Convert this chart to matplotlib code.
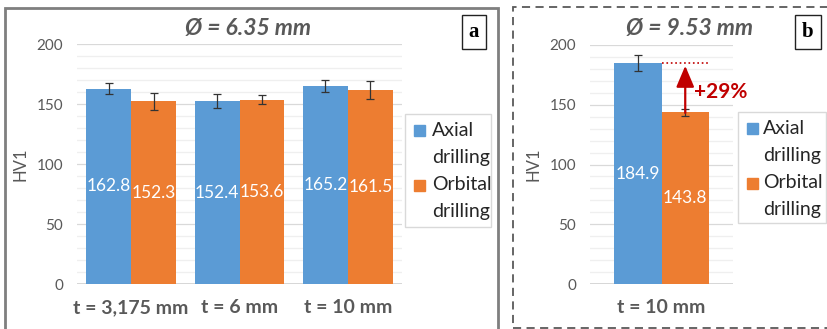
import matplotlib
matplotlib.use("Agg")
import matplotlib.pyplot as plt
from matplotlib.patches import Rectangle
import numpy as np

# hardness data (HV1)
cats_a = ["t = 3,175 mm", "t = 6 mm", "t = 10 mm"]
axial_a = [162.8, 152.4, 165.2]
orbital_a = [152.3, 153.6, 161.5]
axial_err_a = [4.5, 6.0, 5.0]
orbital_err_a = [7.0, 4.0, 7.5]

cats_b = ["t = 10 mm"]
axial_b = [184.9]
orbital_b = [143.8]
axial_err_b = [7.0]
orbital_err_b = [3.0]

BLUE = "#5b9bd5"
ORANGE = "#ed7d31"
GRAY_TXT = "#595959"
RED = "#c00000"

plt.rcParams["font.family"] = ["Lato", "DejaVu Sans"]

W, H = 827, 329
fig = plt.figure(figsize=(W / 100, H / 100), dpi=100)


def px_axes(x0, x1, ytop, ybot):
    return fig.add_axes([x0 / W, (H - ybot) / H, (x1 - x0) / W, (ybot - ytop) / H])


def draw_panel(ax, cats, ax_vals, or_vals, ax_err, or_err, width):
    x = np.arange(len(cats))
    ax.set_xlim(-0.5, len(cats) - 0.5)
    ax.set_ylim(0, 200)
    for y in range(10, 200, 10):
        c = "#d9d9d9" if y % 50 == 0 else "#efefef"
        ax.axhline(y, color=c, lw=0.9, zorder=0)
    ax.axhline(200, color="#d9d9d9", lw=0.9, zorder=0)
    ax.axhline(0, color="#d0d0d0", lw=1.2, zorder=0)
    b1 = ax.bar(x - width / 2, ax_vals, width, color=BLUE, zorder=2,
                yerr=ax_err, capsize=3,
                error_kw=dict(ecolor="#333333", elinewidth=0.9, capthick=0.9))
    b2 = ax.bar(x + width / 2, or_vals, width, color=ORANGE, zorder=2,
                yerr=or_err, capsize=3,
                error_kw=dict(ecolor="#333333", elinewidth=0.9, capthick=0.9))
    for bars, vals in ((b1, ax_vals), (b2, or_vals)):
        for r, v in zip(bars, vals):
            ax.text(r.get_x() + r.get_width() / 2, v / 2, f"{v:.1f}",
                    ha="center", va="center", color="white", fontsize=12.5,
                    zorder=3)
    for s in ax.spines.values():
        s.set_visible(False)
    ax.set_yticks([0, 50, 100, 150, 200])
    ax.tick_params(axis="y", length=0, labelsize=11, labelcolor=GRAY_TXT, pad=10)
    ax.set_xticks(x)
    ax.set_xticklabels(cats, fontsize=14, fontweight="bold", color=GRAY_TXT)
    ax.tick_params(axis="x", length=0, pad=11)
    ax.set_ylabel("HV1", fontsize=12, color=GRAY_TXT, labelpad=6)
    ax.set_facecolor("white")
    return b1, b2


def draw_legend(x0, ytop, box_w, box_h, txt_dx=27):
    fig.add_artist(Rectangle((x0 / W, (H - ytop - box_h) / H), box_w / W, box_h / H,
                             transform=fig.transFigure, fill=False,
                             edgecolor="#d9d9d9", lw=1))
    items = [(BLUE, "Axial", "drilling", ytop + 16), (ORANGE, "Orbital", "drilling", ytop + 71)]
    for col, l1, l2, yc in items:
        fig.add_artist(Rectangle(((x0 + 9) / W, (H - yc - 6) / H), 11 / W, 11 / H,
                                 transform=fig.transFigure, color=col))
        fig.text((x0 + txt_dx) / W, (H - yc) / H, l1, fontsize=14, color="#262626",
                 va="center", ha="left")
        fig.text((x0 + txt_dx) / W, (H - yc - 27) / H, l2, fontsize=14, color="#262626",
                 va="center", ha="left")


def label_box(xc, yc, s):
    fig.text(xc / W, (H - yc) / H, s, fontsize=15, fontweight="bold",
             family="Liberation Serif", ha="center", va="center",
             bbox=dict(boxstyle="square,pad=0.35", fc="white", ec="#222222", lw=1))


# panel a
ax_a = px_axes(77, 402, 44, 284)
draw_panel(ax_a, cats_a, axial_a, orbital_a, axial_err_a, orbital_err_a, 0.415)
fig.text(248 / W, (H - 28) / H, "Ø = 6.35 mm", fontsize=16.5, fontweight="bold",
         style="italic", color=GRAY_TXT, ha="center", va="center")
draw_legend(405, 114, 86, 113)
label_box(474, 32, "a")
fig.add_artist(Rectangle((5 / W, -0.1), 493 / W, (H - 8) / H + 0.1,
                         transform=fig.transFigure, fill=False,
                         edgecolor="#7f7f7f", lw=2))

# panel b
ax_b = px_axes(590, 733, 45, 284)
draw_panel(ax_b, cats_b, axial_b, orbital_b, axial_err_b, orbital_err_b, 0.332)
fig.text(690 / W, (H - 28) / H, "Ø = 9.53 mm", fontsize=16.5, fontweight="bold",
         style="italic", color=GRAY_TXT, ha="center", va="center")
draw_legend(738, 112, 88, 111, txt_dx=25)
label_box(808, 32, "b")
fig.add_artist(Rectangle((513 / W, 1 / H), 330 / W, (H - 8) / H,
                         transform=fig.transFigure, fill=False,
                         edgecolor="#595959", lw=1.3, linestyle=(0, (4.5, 3))))

# gain of axial over orbital drilling
w_b = 0.332
ax_b.plot([0, w_b], [axial_b[0], axial_b[0]], color=RED, lw=1.2, ls=":", zorder=4)
ax_b.annotate("", xy=(w_b / 2, axial_b[0]), xytext=(w_b / 2, orbital_b[0] - 3),
              arrowprops=dict(arrowstyle="-|>,head_width=0.55,head_length=1.3",
                              color=RED, lw=1.6), zorder=4)
gain = (axial_b[0] - orbital_b[0]) / orbital_b[0] * 100
ax_b.text(0.416, 161, f"+{gain:.0f}%", color=RED, fontsize=15, fontweight="bold",
          ha="center", va="center", zorder=4)

fig.savefig("out.png", dpi=100)
